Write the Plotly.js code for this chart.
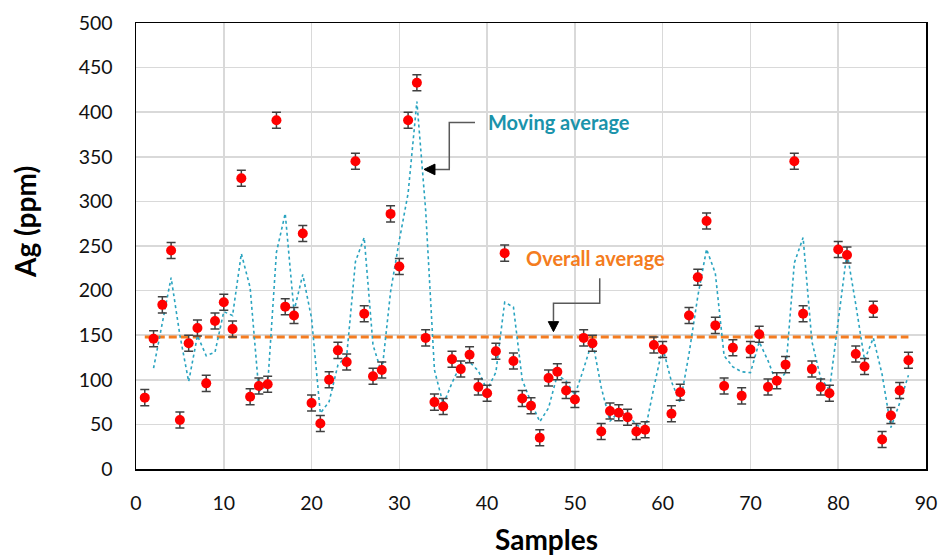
<!DOCTYPE html>
<html>
<head>
<meta charset="utf-8">
<script src="https://cdn.plot.ly/plotly-3.0.1.min.js"></script>
<style>html,body{margin:0;padding:0;background:#fff;}#chart{width:938px;height:556px;}</style>
</head>
<body>
<div id="chart"></div>
<script>
// Sample numbers
const samples = [1,2,3,4,5,6,7,8,9,10,11,12,13,14,15,16,17,18,19,20,21,22,23,24,25,26,27,28,29,30,
  31,32,33,34,35,36,37,38,39,40,41,42,43,44,45,46,47,48,49,50,51,52,53,54,55,56,57,58,59,60,
  61,62,63,64,65,66,67,68,69,70,71,72,73,74,75,76,77,78,79,80,81,82,83,84,85,86,87,88];
// Ag concentration (ppm)
const agPpm = [80,146,184,245,55,141,158,96,166,187,157,326,81,93,95,391,182,172,264,74,
  51,100,133,120,345,174,104,111,286,227,391,433,147,75,70,123,112,128,92,85,
  132,242,121,79,71,35,102,109,88,78,147,141,42,65,63,58,42,44,139,134,
  62,86,172,215,278,161,93,136,82,134,151,92,99,117,345,174,112,92,85,246,
  240,129,115,179,33,60,88,122];
// Error (ppm)
const agError = 9;
// 2-period moving average (samples 2..88)
const maSamples = samples.slice(1);
const movingAvg = [113,165,214.5,150,98,149.5,127,131,176.5,172,241.5,203.5,87,94,243,286.5,177,218,169,
  62.5,75.5,116.5,126.5,232.5,259.5,139,107.5,198.5,256.5,309,412,290,111,72.5,96.5,117.5,120,110,88.5,
  108.5,187,181.5,100,75,53,68.5,105.5,98.5,83,112.5,144,91.5,53.5,64,60.5,50,43,91.5,136.5,
  98,74,129,193.5,246.5,219.5,127,114.5,109,108,142.5,121.5,95.5,108,231,259.5,143,102,88.5,165.5,
  243,184.5,122,147,106,46.5,74,105];
// Overall average (ppm)
const overallAvg = 148;
const avgX = [samples[0], samples[samples.length-1]];
const avgY = [overallAvg, overallAvg];

const xTicks = [0,10,20,30,40,50,60,70,80,90];
const yTicks = [0,50,100,150,200,250,300,350,400,450,500];

const FONT = 'Lato, "Open Sans", "Liberation Sans", sans-serif';
const TEAL = '#1A93AB';
const ORANGE = '#F47C20';

const traces = [
  {x: avgX, y: avgY, type: 'scatter', mode: 'lines',
   line: {color: ORANGE, width: 3, dash: '8px,4px'}, hoverinfo: 'skip'},
  {x: maSamples, y: movingAvg, type: 'scatter', mode: 'lines',
   line: {color: '#2AA4C0', width: 1.6, dash: 'dot'}, hoverinfo: 'skip'},
  {x: samples, y: agPpm, type: 'scatter', mode: 'markers',
   marker: {color: '#FF0000', size: 10},
   error_y: {type: 'constant', value: agError, color: '#404040', thickness: 1.5, width: 4.5}}
];

const layout = {
  width: 938, height: 556,
  margin: {l: 136, r: 12, t: 23, b: 87},
  paper_bgcolor: '#fff', plot_bgcolor: '#fff',
  showlegend: false,
  font: {family: FONT, color: '#000', size: 19},
  xaxis: {range: [0, 90], tickvals: xTicks, ticktext: xTicks.map(String),
    showgrid: true, gridcolor: '#D9D9D9', gridwidth: 1.5, zeroline: false,
    showline: true, linecolor: '#000', linewidth: 1.5, mirror: true,
    ticks: 'outside', ticklen: 0, ticklabelstandoff: 16,
    tickfont: {family: FONT, size: 19.5, color: '#111'}},
  yaxis: {range: [0, 500], tickvals: yTicks, ticktext: yTicks.map(String),
    showgrid: true, gridcolor: '#D9D9D9', gridwidth: 1.5, zeroline: false,
    showline: true, linecolor: '#000', linewidth: 1.5, mirror: true,
    ticks: 'outside', ticklen: 0, ticklabelstandoff: 18,
    tickfont: {family: FONT, size: 19.5, color: '#111'}},
  annotations: [
    {xref: 'paper', yref: 'paper', x: (546-136)/790, y: (556-87-539)/446, xanchor: 'center', yanchor: 'middle',
     text: '<b>Samples</b>', showarrow: false, font: {family: FONT, size: 28, color: '#000'}},
    {xref: 'paper', yref: 'paper', x: (25-136)/790, y: (469-222)/446, xanchor: 'center', yanchor: 'middle',
     text: '<b>Ag (ppm)</b>', textangle: -90, showarrow: false, font: {family: FONT, size: 28, color: '#000'}},
    {xref: 'x', yref: 'y', x: 48.2, y: 388.6, xanchor: 'center', yanchor: 'middle',
     text: '<b>Moving average</b>', showarrow: false, font: {family: FONT, size: 20, color: TEAL}},
    {xref: 'x', yref: 'y', x: 52.4, y: 236.2, xanchor: 'center', yanchor: 'middle',
     text: '<b>Overall average</b>', showarrow: false, font: {family: FONT, size: 20, color: ORANGE}}
  ],
  shapes: [
    {type: 'path', xref: 'x', yref: 'y', path: 'M38.62,388.5 L35.69,388.5 L35.69,335.9 L34.0,335.9',
     line: {color: '#595959', width: 1.5}},
    {type: 'path', xref: 'x', yref: 'y', path: 'M32.81,335.9 L34.06,341.8 L34.06,329.8 Z',
     fillcolor: '#000', line: {color: '#000', width: 1}},
    {type: 'path', xref: 'x', yref: 'y', path: 'M52.83,213.8 L52.83,185.8 L47.56,185.8 L47.56,166',
     line: {color: '#595959', width: 1.5}},
    {type: 'path', xref: 'x', yref: 'y', path: 'M47.56,154 L46.97,165.2 L48.15,165.2 Z',
     fillcolor: '#000', line: {color: '#000', width: 1}}
  ]
};

Plotly.newPlot('chart', traces, layout, {displayModeBar: false, staticPlot: true});
</script>
</body>
</html>
